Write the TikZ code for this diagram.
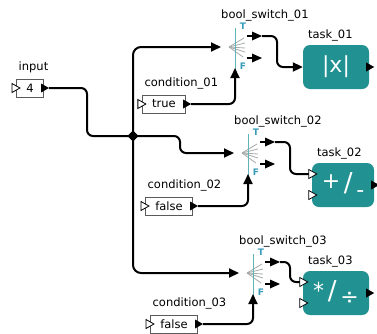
\documentclass[tikz,border=0pt]{standalone}
\usepackage{fontspec}
\setmainfont{DejaVu Sans}
\usetikzlibrary{arrows.meta,shapes.geometric,calc}
\definecolor{taskteal}{RGB}{33,145,145}
\definecolor{swteal}{RGB}{95,180,185}
\definecolor{tfblue}{RGB}{55,155,185}
\definecolor{fangray}{RGB}{165,170,170}
\definecolor{boxedge}{RGB}{90,90,90}

\tikzset{
  lbl/.style={font=\fontsize{11.5}{13}\selectfont, inner sep=0pt, anchor=west},
  valbox/.style={draw=boxedge, line width=0.7pt, fill=white, minimum height=18pt,
    inner xsep=10pt, inner ysep=0pt, font=\fontsize{11.5}{13}\selectfont},
  taskbox/.style={fill=taskteal, rounded corners=7pt, minimum width=66pt,
    minimum height=44pt, inner sep=0pt, text=white, font=\fontsize{22}{24}\selectfont},
  wire/.style={line width=2pt, rounded corners=6pt},
  arr/.style={-{Triangle[length=10pt,width=9pt]}},
  junc/.style={diamond, fill=black, minimum size=11pt, inner sep=0pt},
  tf/.style={text=tfblue, font=\fontsize{9}{10}\selectfont\bfseries, inner sep=0pt},
  pics/inport/.style={code={\draw[line width=0.8pt, fill=white] (-4,-4.5) -- (4,0) -- (-4,4.5) -- cycle;}},
  pics/outport/.style={code={\fill (-3,-4.5) -- (5,0) -- (-3,4.5) -- cycle;}},
  % boolean switch: data input on the left, condition from below, T/F outputs
  pics/boolsw/.style={code={
    \foreach \a/\b in {9/-9,10/-4,10/1,10/5,8/10}
      \draw[fangray, line width=0.8pt] (-6,0) -- (\a,\b);
    \draw[swteal, line width=0.9pt] (0,-19) -- (0,26);
    \draw[line width=2pt] (12,-11) -- (18,-11);
    \fill (17,-15.5) -- (27,-11) -- (17,-6.5) -- cycle;
    \draw[line width=2pt] (12,11) -- (18,11);
    \fill (17,6.5) -- (27,11) -- (17,15.5) -- cycle;
    \node[tf] (-tl) at (8,-21) {T};
    \node[tf] (-fl) at (8,19) {F};
    \node[lbl] (-label) at (-14,-32) {#1};
    \coordinate (-in) at (-14,0);
    \coordinate (-t) at (27,-11);
    \coordinate (-f) at (27,11);
    \coordinate (-c) at (0,21);
  }}
}

\begin{document}
\begin{tikzpicture}[x=1pt,y=-1pt]
\useasboundingbox (0,0) rectangle (377,333);

% value sources
\node[valbox] (input) at (30,88) {4};
\node[valbox] (c1) at (164,104) {true};
\node[valbox] (c2) at (169,206) {false};
\node[valbox] (c3) at (174,324) {false};
\foreach \n/\t in {input/input,c1/condition\_01,c2/condition\_02,c3/condition\_03}{
  \node[lbl] (\n-label) at ($(\n.north west)+(2.5,-11)$) {\t};
  \pic at (\n.west) {inport};
  \pic at (\n.east) {outport};
  \coordinate (\n-o) at ($(\n.east)+(5,0)$);
}

% switches
\pic (s1) at (235,47) {boolsw=bool\_switch\_01};
\pic (s2) at (248,153) {boolsw=bool\_switch\_02};
\pic (s3) at (253,273) {boolsw=bool\_switch\_03};

% tasks
\node[taskbox] (t1) at (336,67) {|x|};
\node[taskbox, minimum width=62pt] (t2) at (343,185)
  {\raisebox{3pt}{+}\,{\fontsize{26}{26}\selectfont/}\,\raisebox{-6pt}{-}};
\node[taskbox] (t3) at (336,293)
  {\raisebox{1pt}{*}\,{\fontsize{26}{26}\selectfont/}\,\raisebox{-5pt}{÷}};
\foreach \n/\t in {t1/task\_01,t2/task\_02,t3/task\_03}{
  \node[lbl] (\n-label) at ($(\n.north west)+(5,-9)$) {\t};
  \pic at (\n.east) {outport};
}
\foreach \n in {t2,t3}{
  \coordinate (\n-a) at ($(\n.west)+(1,-11)$);
  \coordinate (\n-b) at ($(\n.west)+(1,10)$);
  \coordinate (\n-aw) at ($(\n-a)+(-4,0)$);
}

% junction and data wires
\node[junc] (j) at (133,136) {};
\draw[wire] (input-o) -- ++(38,0) |- (j.center);
\draw[wire,arr,rounded corners=8pt] (j.center) |- (s1-in);
\draw[wire,arr] (j.center) -- ++(47,0) |- (s2-in);
\draw[wire,arr,rounded corners=8pt] (j.center) |- (s3-in);
\node[junc] at (j) {};

% conditions
\draw[wire,arr] (c1-o) -| (s1-c);
\draw[wire,arr] (c2-o) -| (s2-c);
\draw[wire,arr] (c3-o) -| (s3-c);

% switch outputs to tasks
\draw[wire,arr] (s1-t) -- ++(15,0) |- (t1.west);
\draw[wire] (s2-t) -- ++(15,0) |- (t2-aw);
\draw[wire] (s3-t) -- ++(10,0) |- (t3-aw);
\foreach \n in {t2,t3}{
  \pic at (\n-a) {inport};
  \pic at (\n-b) {inport};
}
\end{tikzpicture}
\end{document}
